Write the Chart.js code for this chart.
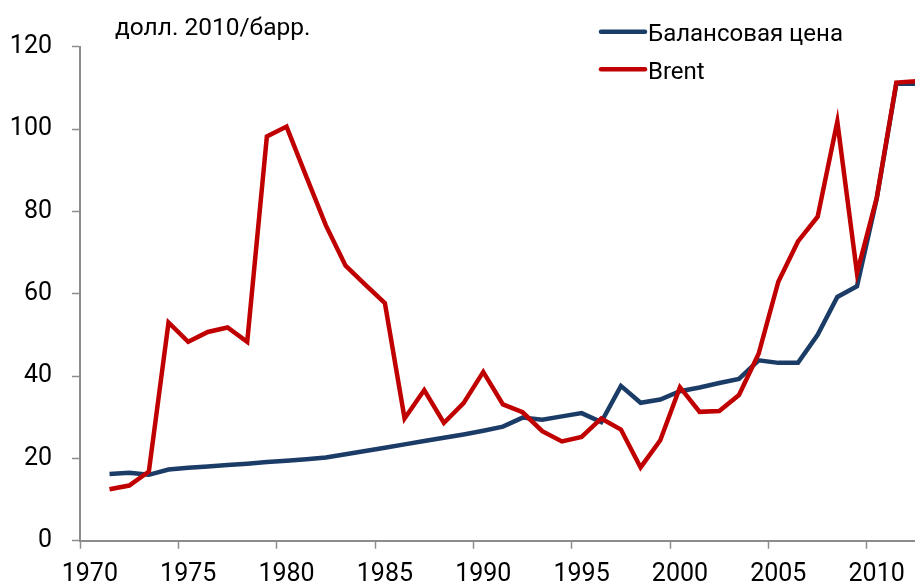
<!DOCTYPE html>
<html>
<head>
<meta charset="utf-8">
<script src="https://cdn.jsdelivr.net/npm/chart.js@4"></script>
<style>
html,body{margin:0;padding:0;background:#fff;overflow:hidden;}
#wrap{width:915px;height:588px;overflow:hidden;position:relative;}
canvas{display:block;}
</style>
</head>
<body>
<div id="wrap"><canvas id="c" width="927" height="588"></canvas></div>
<script>
const years = [1970,1971,1972,1973,1974,1975,1976,1977,1978,1979,1980,1981,1982,1983,1984,1985,1986,1987,1988,1989,1990,1991,1992,1993,1994,1995,1996,1997,1998,1999,2000,2001,2002,2003,2004,2005,2006,2007,2008,2009,2010,2011,2012];
const balancePrice = [null,16.2,16.5,16.0,17.3,17.7,18.0,18.4,18.7,19.1,19.4,19.8,20.2,21.0,21.8,22.6,23.4,24.2,25.0,25.8,26.7,27.7,29.9,29.4,30.2,31.0,28.8,37.6,33.5,34.3,36.3,37.2,38.3,39.3,43.8,43.2,43.2,50.0,59.2,61.8,83.0,111.0,111.0];
const brent = [null,12.5,13.4,16.8,53.0,48.3,50.7,51.8,48.3,98.2,100.6,88.5,76.6,66.8,62.2,57.7,29.7,36.6,28.6,33.4,41.0,33.1,31.2,26.6,24.1,25.2,29.7,27.0,17.8,24.4,37.3,31.3,31.5,35.4,45.4,62.9,72.7,78.7,101.8,65.0,83.2,111.3,111.6];
const yTicks = [0,20,40,60,80,100,120];
const xTickYears = [1970,1975,1980,1985,1990,1995,2000,2005,2010];
const seriesNames = ['Балансовая цена','Brent'];
const unitLabel = 'долл. 2010/барр.';

const BLUE = '#1B3C66';
const RED = '#C00000';
const AXIS = '#8C8C8C';
const FONT = 'Roboto';

const overlay = {
  id: 'overlay',
  afterDraw(chart) {
    const ctx = chart.ctx;
    ctx.save();
    ctx.fillStyle = '#000';
    ctx.font = '24.5px ' + FONT;
    ctx.textAlign = 'left';
    ctx.textBaseline = 'alphabetic';
    ctx.fillText(unitLabel, 115, 35);
    const items = [
      {name: seriesNames[0], color: BLUE, y: 31.7, base: 40.7},
      {name: seriesNames[1], color: RED, y: 69.3, base: 79}
    ];
    ctx.font = '24px ' + FONT;
    items.forEach(it => {
      ctx.strokeStyle = it.color;
      ctx.lineWidth = 4.5;
      ctx.lineCap = 'round';
      ctx.beginPath();
      ctx.moveTo(601, it.y);
      ctx.lineTo(645, it.y);
      ctx.stroke();
      ctx.fillStyle = '#000';
      ctx.fillText(it.name, 648, it.base);
    });
    ctx.restore();
  }
};

new Chart(document.getElementById('c'), {
  type: 'line',
  data: {
    labels: years,
    datasets: [
      {label: seriesNames[0], data: balancePrice, borderColor: BLUE, backgroundColor: BLUE, borderWidth: 4.5, pointRadius: 0, tension: 0, order: 1},
      {label: seriesNames[1], data: brent, borderColor: RED, backgroundColor: RED, borderWidth: 4.5, pointRadius: 0, tension: 0, order: 0}
    ]
  },
  options: {
    responsive: false,
    animation: false,
    layout: {padding: {top: 46.7, left: 0, right: 0, bottom: 0}},
    plugins: {legend: {display: false}, tooltip: {enabled: false}},
    scales: {
      x: {
        type: 'category',
        offset: true,
        afterFit(s) { s.height = 588 - 540.7; },
        grid: {
          offset: true,
          drawOnChartArea: false,
          drawTicks: true,
          tickLength: 8,
          tickWidth: 1.5,
          tickColor: (c) => (c.index !== undefined && xTickYears.includes(years[c.index])) ? AXIS : 'rgba(0,0,0,0)',
          color: 'rgba(0,0,0,0)'
        },
        border: {display: true, color: AXIS, width: 2},
        ticks: {
          autoSkip: false,
          maxRotation: 0,
          padding: 11,
          color: '#000',
          font: {family: FONT, size: 25},
          callback: function(v, i) { const y = years[i]; return xTickYears.includes(y) ? String(y) : ''; }
        }
      },
      y: {
        min: 0,
        max: 120,
        afterFit(s) { s.width = 80; },
        afterBuildTicks(s) { s.ticks = yTicks.map(v => ({value: v})); },
        grid: {
          drawOnChartArea: false,
          drawTicks: true,
          tickLength: 8,
          tickWidth: 1.5,
          tickColor: AXIS,
          color: 'rgba(0,0,0,0)'
        },
        border: {display: true, color: AXIS, width: 2},
        ticks: {
          padding: 20,
          color: '#000',
          font: {family: FONT, size: 25}
        }
      }
    }
  },
  plugins: [overlay]
});
</script>
</body>
</html>
